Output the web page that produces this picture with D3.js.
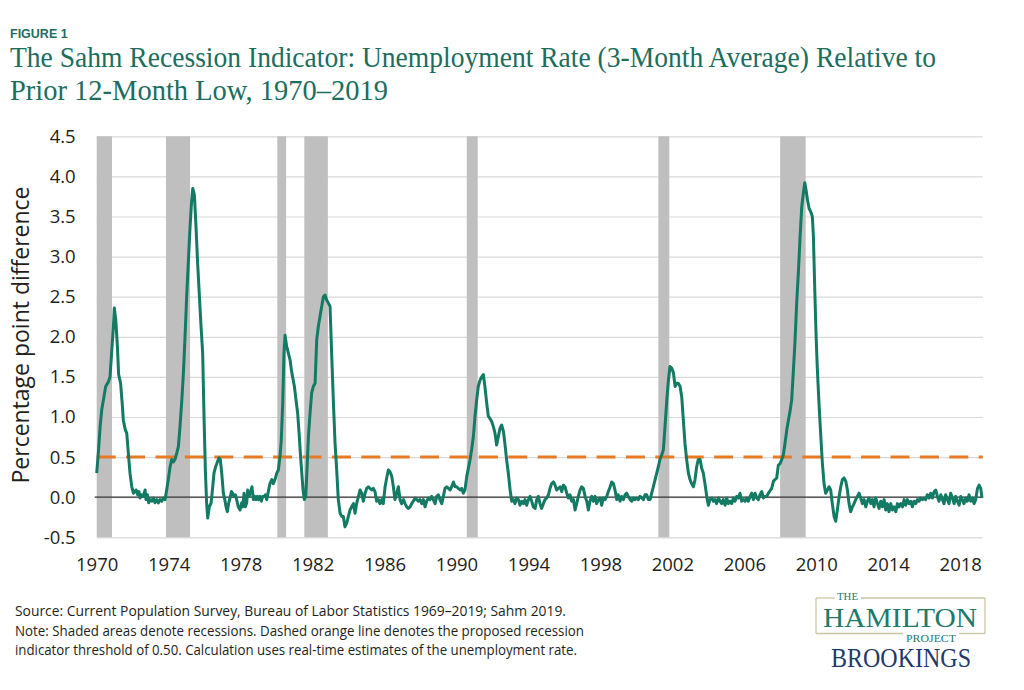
<!DOCTYPE html>
<html>
<head>
<meta charset="utf-8">
<script src="https://d3js.org/d3.v7.min.js"></script>
<style>
  body { margin: 0; background: #fff; }
</style>
</head>
<body>
<div id="chart"></div>
<script>

// ---- data ----
var figureLabel = "FIGURE 1";
var titleLines = [
  "The Sahm Recession Indicator: Unemployment Rate (3-Month Average) Relative to",
  "Prior 12-Month Low, 1970\u20132019"
];
var noteLines = [
  "Source: Current Population Survey, Bureau of Labor Statistics 1969\u20132019; Sahm 2019.",
  "Note: Shaded areas denote recessions. Dashed orange line denotes the proposed recession",
  "indicator threshold of 0.50. Calculation uses real-time estimates of the unemployment rate."
];
var yLabel = "Percentage point difference";
var yTicks = [-0.5, 0, 0.5, 1, 1.5, 2, 2.5, 3, 3.5, 4, 4.5];
var xTicks = [1970, 1974, 1978, 1982, 1986, 1990, 1994, 1998, 2002, 2006, 2010, 2014, 2018];
var threshold = 0.5;

// recession periods (decimal years)
var recessions = [
  [1969.92, 1970.85], [1973.85, 1975.19], [1980.04, 1980.53], [1981.54, 1982.85],
  [1990.57, 1991.18], [2001.22, 2001.83], [2007.99, 2009.41]
];

// [decimal year, percentage points]
var sahm = [
  [1970.00,0.30],[1970.09,0.55],[1970.19,0.88],[1970.28,1.09],[1970.37,1.21],[1970.50,1.38],[1970.65,1.44],[1970.74,1.50],
  [1970.83,1.80],[1970.93,2.13],[1970.98,2.36],[1971.06,2.21],[1971.15,1.88],[1971.22,1.53],[1971.33,1.42],[1971.43,1.13],
  [1971.48,0.96],[1971.59,0.84],[1971.67,0.80],[1971.76,0.55],[1971.85,0.30],[1971.95,0.13],[1972.04,0.05],[1972.19,0.09],
  [1972.28,0.03],[1972.35,0.07],[1972.41,-0.01],[1972.50,0.03],[1972.59,0.01],[1972.69,0.09],[1972.74,-0.03],[1972.82,0.03],
  [1972.89,-0.07],[1972.96,-0.03],[1973.06,-0.05],[1973.15,-0.01],[1973.24,-0.07],[1973.34,-0.03],[1973.43,-0.07],[1973.52,-0.03],
  [1973.61,-0.05],[1973.71,-0.01],[1973.80,-0.03],[1973.89,0.09],[1973.98,0.22],[1974.08,0.38],[1974.17,0.47],[1974.26,0.44],
  [1974.35,0.47],[1974.45,0.55],[1974.54,0.63],[1974.63,0.88],[1974.72,1.17],[1974.82,1.55],[1974.91,2.00],[1975.00,2.50],
  [1975.10,2.96],[1975.19,3.37],[1975.28,3.71],[1975.34,3.85],[1975.43,3.77],[1975.52,3.37],[1975.61,2.92],[1975.71,2.50],
  [1975.80,2.13],[1975.89,1.80],[1975.97,0.96],[1976.04,0.34],[1976.11,-0.07],[1976.17,-0.26],[1976.26,-0.12],[1976.36,-0.07],
  [1976.45,0.13],[1976.52,0.30],[1976.61,0.38],[1976.71,0.44],[1976.80,0.49],[1976.87,0.47],[1976.95,0.30],[1977.04,0.05],
  [1977.12,-0.03],[1977.19,-0.12],[1977.26,-0.18],[1977.34,-0.07],[1977.41,-0.01],[1977.49,0.07],[1977.56,0.05],[1977.63,0.01],
  [1977.71,0.03],[1977.78,-0.03],[1977.87,-0.12],[1977.97,-0.16],[1978.06,-0.07],[1978.12,-0.12],[1978.19,0.05],[1978.26,-0.12],
  [1978.34,-0.07],[1978.39,0.09],[1978.47,0.01],[1978.56,0.07],[1978.63,0.13],[1978.71,-0.03],[1978.78,0.01],[1978.86,-0.03],
  [1978.93,0.01],[1979.00,-0.03],[1979.08,0.01],[1979.15,-0.05],[1979.23,0.01],[1979.30,0.01],[1979.38,0.03],[1979.45,-0.03],
  [1979.54,0.07],[1979.63,0.17],[1979.73,0.22],[1979.82,0.17],[1979.91,0.22],[1980.01,0.30],[1980.10,0.34],[1980.19,0.51],
  [1980.26,0.71],[1980.34,1.17],[1980.41,1.80],[1980.47,2.02],[1980.56,1.88],[1980.65,1.80],[1980.75,1.71],[1980.82,1.59],
  [1980.89,1.50],[1980.99,1.38],[1981.08,1.21],[1981.17,1.05],[1981.25,0.80],[1981.32,0.55],[1981.40,0.30],[1981.47,0.09],
  [1981.54,-0.03],[1981.62,0.01],[1981.69,0.34],[1981.77,0.76],[1981.86,1.05],[1981.95,1.30],[1982.04,1.38],[1982.14,1.42],
  [1982.23,1.96],[1982.32,2.13],[1982.41,2.25],[1982.51,2.38],[1982.60,2.50],[1982.69,2.52],[1982.78,2.46],[1982.88,2.42],
  [1982.97,2.38],[1983.06,1.79],[1983.16,1.17],[1983.25,0.67],[1983.34,0.34],[1983.43,-0.03],[1983.53,-0.20],[1983.62,-0.24],
  [1983.71,-0.24],[1983.80,-0.37],[1983.90,-0.32],[1983.99,-0.24],[1984.08,-0.16],[1984.17,-0.12],[1984.27,-0.08],[1984.36,-0.20],
  [1984.45,-0.08],[1984.55,0.01],[1984.64,0.09],[1984.73,0.05],[1984.82,-0.05],[1984.92,0.05],[1985.01,0.11],[1985.10,0.13],
  [1985.19,0.11],[1985.29,0.09],[1985.38,0.11],[1985.47,0.07],[1985.56,-0.05],[1985.66,-0.03],[1985.75,-0.08],[1985.84,-0.03],
  [1985.93,-0.08],[1986.03,0.13],[1986.12,0.24],[1986.21,0.34],[1986.30,0.32],[1986.40,0.26],[1986.49,0.13],[1986.58,-0.03],
  [1986.68,0.05],[1986.77,0.13],[1986.86,-0.03],[1986.95,-0.08],[1987.05,-0.03],[1987.14,-0.08],[1987.23,-0.12],[1987.32,-0.14],
  [1987.42,-0.12],[1987.51,-0.08],[1987.60,-0.05],[1987.70,-0.01],[1987.79,-0.03],[1987.88,-0.05],[1987.97,-0.03],[1988.07,-0.08],
  [1988.16,-0.03],[1988.25,-0.12],[1988.34,-0.05],[1988.44,-0.01],[1988.53,-0.03],[1988.62,0.01],[1988.71,-0.03],[1988.81,-0.08],
  [1988.90,0.01],[1988.99,0.03],[1989.08,-0.03],[1989.18,-0.08],[1989.27,0.01],[1989.36,0.11],[1989.46,0.13],[1989.55,0.11],
  [1989.64,0.09],[1989.73,0.13],[1989.83,0.19],[1989.92,0.13],[1990.01,0.13],[1990.10,0.11],[1990.20,0.09],[1990.29,0.11],
  [1990.38,0.05],[1990.47,0.09],[1990.57,0.26],[1990.66,0.36],[1990.75,0.46],[1990.84,0.59],[1990.94,0.76],[1991.03,1.01],
  [1991.12,1.21],[1991.21,1.38],[1991.31,1.46],[1991.40,1.50],[1991.49,1.53],[1991.58,1.38],[1991.68,1.17],[1991.77,1.01],
  [1991.86,0.98],[1991.96,0.94],[1992.05,0.88],[1992.14,0.80],[1992.23,0.65],[1992.33,0.76],[1992.42,0.86],[1992.51,0.90],
  [1992.61,0.82],[1992.70,0.65],[1992.79,0.46],[1992.88,0.30],[1992.98,0.09],[1993.07,-0.05],[1993.16,-0.03],[1993.25,-0.08],
  [1993.35,-0.01],[1993.44,-0.03],[1993.53,-0.10],[1993.62,-0.05],[1993.72,-0.08],[1993.81,-0.03],[1993.90,-0.10],[1994.00,-0.03],
  [1994.09,0.01],[1994.18,-0.05],[1994.27,-0.12],[1994.37,-0.14],[1994.46,-0.03],[1994.55,0.01],[1994.64,-0.08],[1994.73,-0.14],
  [1994.83,-0.08],[1994.92,-0.03],[1995.01,-0.01],[1995.11,0.03],
  [1995.20,0.11],[1995.29,0.17],[1995.39,0.19],[1995.48,0.15],[1995.57,0.09],[1995.66,0.11],[1995.76,0.13],[1995.85,0.07],
  [1995.94,0.15],[1996.03,0.13],[1996.13,0.05],[1996.22,-0.01],[1996.31,0.03],[1996.40,-0.05],[1996.50,-0.03],[1996.59,-0.16],
  [1996.68,-0.08],[1996.77,0.01],[1996.87,0.09],[1996.96,0.13],[1997.05,0.11],[1997.15,0.01],[1997.24,-0.05],[1997.33,-0.16],
  [1997.42,-0.05],[1997.52,0.01],[1997.61,-0.05],[1997.70,0.01],[1997.79,-0.08],[1997.89,-0.03],[1997.98,-0.01],[1998.07,-0.10],
  [1998.16,-0.01],[1998.26,-0.03],[1998.35,0.01],[1998.44,0.07],[1998.54,0.13],[1998.63,0.19],[1998.72,0.17],[1998.81,0.09],
  [1998.91,-0.03],[1998.99,0.03],[1999.09,-0.05],[1999.18,0.01],[1999.28,-0.03],[1999.37,0.03],[1999.46,0.05],[1999.55,0.01],
  [1999.65,-0.03],[1999.74,-0.05],[1999.83,-0.01],[1999.92,-0.03],[2000.02,-0.01],[2000.11,-0.03],[2000.20,0.01],[2000.30,-0.01],
  [2000.39,-0.03],[2000.48,0.03],[2000.57,0.03],[2000.67,-0.03],[2000.76,-0.03],[2000.85,0.05],[2000.94,0.13],[2001.04,0.22],
  [2001.13,0.30],[2001.22,0.38],[2001.31,0.47],[2001.41,0.53],[2001.50,0.59],[2001.59,0.88],[2001.69,1.21],[2001.78,1.46],
  [2001.87,1.63],[2001.96,1.61],[2002.06,1.55],[2002.15,1.38],[2002.24,1.42],[2002.33,1.42],[2002.43,1.38],[2002.52,1.25],
  [2002.61,0.96],[2002.70,0.67],[2002.80,0.46],[2002.89,0.30],[2002.98,0.22],[2003.07,0.17],[2003.17,0.13],[2003.26,0.22],
  [2003.35,0.38],[2003.44,0.47],[2003.54,0.47],[2003.63,0.36],[2003.72,0.30],[2003.81,0.17],[2003.91,0.01],[2004.00,-0.10],
  [2004.09,-0.03],[2004.19,-0.01],[2004.28,-0.05],[2004.37,-0.03],[2004.46,-0.08],[2004.56,-0.01],[2004.65,-0.05],[2004.74,-0.08],
  [2004.83,-0.03],[2004.93,-0.10],[2005.02,-0.01],[2005.11,-0.08],[2005.21,-0.05],[2005.30,-0.08],[2005.39,-0.01],[2005.48,-0.05],
  [2005.58,0.01],[2005.67,-0.01],[2005.76,0.05],[2005.85,-0.05],[2005.95,-0.03],[2006.04,-0.05],[2006.13,-0.01],[2006.22,-0.05],
  [2006.32,0.01],[2006.41,0.05],[2006.50,-0.03],[2006.60,0.05],[2006.69,-0.01],[2006.78,-0.03],[2006.87,0.03],[2006.97,0.07],
  [2007.06,-0.01],[2007.15,0.01],[2007.24,0.01],[2007.34,0.05],
  [2007.43,0.08],[2007.52,0.11],[2007.62,0.20],[2007.71,0.22],[2007.80,0.24],[2007.89,0.40],[2007.99,0.42],[2008.08,0.47],
  [2008.17,0.53],[2008.26,0.67],[2008.36,0.84],[2008.45,0.96],[2008.54,1.07],[2008.63,1.21],[2008.73,1.59],[2008.82,1.96],
  [2008.91,2.42],[2009.01,2.83],[2009.10,3.25],[2009.19,3.62],[2009.28,3.79],[2009.36,3.92],[2009.43,3.83],[2009.51,3.71],
  [2009.60,3.60],[2009.69,3.56],[2009.78,3.50],[2009.84,3.25],[2009.91,2.63],[2009.99,2.00],[2010.06,1.59],[2010.15,1.17],
  [2010.25,0.76],[2010.34,0.42],[2010.43,0.17],[2010.52,0.05],[2010.62,0.09],[2010.71,0.13],[2010.80,0.09],[2010.89,-0.08],
  [2010.99,-0.24],[2011.08,-0.30],[2011.17,-0.16],[2011.27,0.01],[2011.36,0.13],[2011.45,0.22],[2011.54,0.24],[2011.64,0.20],
  [2011.73,0.09],[2011.82,-0.08],[2011.91,-0.18],[2012.01,-0.12],[2012.10,-0.08],[2012.19,-0.03],[2012.28,0.01],[2012.38,0.05],
  [2012.47,-0.01],[2012.56,-0.08],[2012.66,-0.03],[2012.75,-0.12],[2012.84,-0.05],[2012.93,-0.01],[2013.03,-0.08],[2013.12,-0.03],
  [2013.21,-0.12],[2013.30,-0.01],[2013.40,-0.08],[2013.49,-0.14],[2013.58,-0.05],[2013.67,-0.12],[2013.77,-0.03],[2013.86,-0.16],
  [2013.95,-0.08],[2014.04,-0.18],[2014.14,-0.08],[2014.23,-0.16],[2014.32,-0.12],[2014.42,-0.18],[2014.51,-0.08],[2014.60,-0.12],
  [2014.69,-0.08],[2014.79,-0.12],[2014.88,-0.03],[2014.97,-0.10],[2015.06,-0.03],[2015.16,-0.08],[2015.25,-0.05],[2015.34,-0.12],
  [2015.43,-0.05],[2015.53,-0.08],[2015.62,-0.03],[2015.71,-0.05],[2015.80,-0.01],[2015.90,-0.03],[2015.99,-0.01],[2016.08,-0.03],
  [2016.17,0.03],[2016.27,-0.01],[2016.36,0.05],[2016.45,-0.01],[2016.55,0.07],[2016.64,0.09],[2016.73,0.01],[2016.82,-0.05],
  [2016.92,0.03],[2017.01,-0.03],[2017.10,-0.08],[2017.19,0.03],[2017.29,-0.03],[2017.38,-0.08],[2017.47,0.05],[2017.57,-0.01],
  [2017.66,-0.08],[2017.75,0.01],[2017.84,-0.05],[2017.94,-0.10],[2018.03,0.01],[2018.12,-0.03],[2018.21,-0.08],[2018.31,-0.01],
  [2018.40,-0.05],[2018.49,0.03],[2018.58,-0.05],[2018.68,-0.01],[2018.77,-0.08],[2018.86,-0.03],[2018.96,0.11],[2019.05,0.15],
  [2019.14,0.11],[2019.21,-0.01]
];

// ---- drawing ----
var W = 1024, H = 690;
var teal = "#1c6e5e";
var sans = "'Open Sans', 'Noto Sans', sans-serif";
var serif = "'Liberation Serif', 'DejaVu Serif', serif";

var svg = d3.select("#chart").append("svg")
    .attr("width", W)
    .attr("height", H);

var x = d3.scaleLinear().domain([1970, 2019.25]).range([96.7, 982.7]);
var y = d3.scaleLinear().domain([-0.5, 4.5]).range([537.3, 136.3]);

// header
svg.append("text")
    .attr("x", 10).attr("y", 38.3)
    .style("font-family", "'Liberation Sans', Arial, sans-serif")
    .style("font-weight", "bold")
    .style("font-size", "12.5px")
    .attr("fill", teal)
    .text(figureLabel);

svg.selectAll(".title")
    .data(titleLines)
  .enter().append("text")
    .attr("class", "title")
    .attr("x", 10)
    .attr("y", function(d, i) { return 67 + i * 33.3; })
    .attr("textLength", function(d, i) { return i == 0 ? 926 : 378; })
    .attr("lengthAdjust", "spacingAndGlyphs")
    .style("font-family", serif)
    .style("font-size", "29px")
    .attr("fill", teal)
    .text(function(d) { return d; });

// gridlines + y labels (plain hyphen for the minus, as in the original)
var fmt = d3.format(".1f");
var yAxis = d3.axisLeft(y)
    .tickValues(yTicks)
    .tickSize(-(x.range()[1] - x.range()[0]))
    .tickPadding(21)
    .tickFormat(function(d) { return fmt(d).replace("\u2212", "-"); });

var gy = svg.append("g")
    .attr("transform", "translate(" + x.range()[0] + ",0)")
    .call(yAxis);
gy.select(".domain").remove();
gy.selectAll("line").attr("stroke", "#d9d9d9").attr("stroke-width", 1.2);
gy.selectAll("text")
    .style("font-family", sans)
    .style("font-size", "18.5px")
    .attr("fill", "#231f20");

// x labels
var xAxis = d3.axisBottom(x)
    .tickValues(xTicks)
    .tickSize(0)
    .tickPadding(20.5)
    .tickFormat(d3.format("d"));

var gx = svg.append("g")
    .attr("transform", "translate(0," + y(-0.5) + ")")
    .call(xAxis);
gx.select(".domain").remove();
gx.selectAll("text")
    .style("font-family", sans)
    .style("font-size", "18.5px")
    .attr("fill", "#231f20");

// recession shading
svg.selectAll(".recession")
    .data(recessions)
  .enter().append("rect")
    .attr("class", "recession")
    .attr("x", function(d) { return x(Math.max(d[0], 1970)); })
    .attr("width", function(d) { return x(d[1]) - x(Math.max(d[0], 1970)); })
    .attr("y", y(4.5))
    .attr("height", y(-0.5) - y(4.5))
    .attr("fill", "#bfbfbf");

// zero line
svg.append("line")
    .attr("x1", x.range()[0] - 2).attr("x2", x.range()[1])
    .attr("y1", y(0)).attr("y2", y(0))
    .attr("stroke", "#333")
    .attr("stroke-width", 1.2);

// threshold
svg.append("line")
    .attr("x1", x.range()[0]).attr("x2", x.range()[1])
    .attr("y1", y(threshold)).attr("y2", y(threshold))
    .attr("stroke", "#e87a24")
    .attr("stroke-width", 3)
    .attr("stroke-dasharray", "19,10.4");

// indicator line
var line = d3.line()
    .x(function(d) { return x(d[0]); })
    .y(function(d) { return y(d[1]); });

svg.append("path")
    .datum(sahm)
    .attr("d", line)
    .attr("fill", "none")
    .attr("stroke", "#137a63")
    .attr("stroke-width", 3)
    .attr("stroke-linejoin", "round");

// y title
svg.append("text")
    .attr("transform", "translate(29,335) rotate(-90)")
    .attr("text-anchor", "middle")
    .attr("textLength", 297)
    .attr("lengthAdjust", "spacingAndGlyphs")
    .style("font-family", sans)
    .style("font-size", "23px")
    .attr("fill", "#231f20")
    .text(yLabel);

// notes
svg.selectAll(".note")
    .data(noteLines)
  .enter().append("text")
    .attr("class", "note")
    .attr("x", 15)
    .attr("y", function(d, i) { return 616 + i * 19.5; })
    .attr("textLength", function(d, i) { return [551, 569, 562][i]; })
    .attr("lengthAdjust", "spacingAndGlyphs")
    .style("font-family", sans)
    .style("font-size", "14px")
    .attr("fill", "#231f20")
    .text(function(d) { return d; });

// logo
var logo = svg.append("g");
var khaki = "#c9c7a2";
[[816, 598, 835, 598], [861, 598, 985, 598], [816, 633.5, 903, 633.5], [959, 633.5, 985, 633.5],
 [816, 598, 816, 633.5], [985, 598, 985, 633.5]].forEach(function(s) {
  logo.append("line")
      .attr("x1", s[0]).attr("y1", s[1]).attr("x2", s[2]).attr("y2", s[3])
      .attr("stroke", khaki).attr("stroke-width", 1.3);
});
logo.append("text")
    .attr("x", 837).attr("y", 600)
    .attr("textLength", 21).attr("lengthAdjust", "spacingAndGlyphs")
    .style("font-family", serif).style("font-size", "10px")
    .attr("fill", "#1f7a6b").text("THE");
logo.append("text")
    .attr("x", 823).attr("y", 627)
    .attr("textLength", 154).attr("lengthAdjust", "spacingAndGlyphs")
    .style("font-family", serif).style("font-size", "28px")
    .attr("fill", "#1f7a6b").text("HAMILTON");
logo.append("text")
    .attr("x", 906).attr("y", 642)
    .attr("textLength", 50).attr("lengthAdjust", "spacingAndGlyphs")
    .style("font-family", serif).style("font-size", "10px")
    .attr("fill", "#1f7a6b").text("PROJECT");
logo.append("text")
    .attr("x", 831).attr("y", 667)
    .attr("textLength", 140).attr("lengthAdjust", "spacingAndGlyphs")
    .style("font-family", serif).style("font-size", "27px")
    .attr("fill", "#1f3a6a").text("BROOKINGS");

</script>
</body>
</html>
